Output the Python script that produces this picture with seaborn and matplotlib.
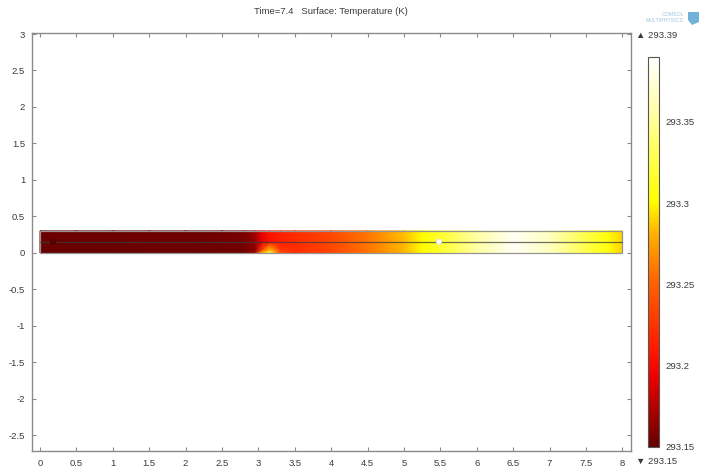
import numpy as np
import pandas as pd
import matplotlib
matplotlib.use("Agg")
import matplotlib.pyplot as plt
from matplotlib.colors import LinearSegmentedColormap, Normalize
from matplotlib.patches import Rectangle, Polygon
import seaborn as sns

# ---- data -----------------------------------------------------------------
title = "Time=7.4   Surface: Temperature (K)"
t_min, t_max = 293.15, 293.39
cbar_ticks = [293.15, 293.2, 293.25, 293.3, 293.35]

# sample positions along the bar (m) and across it
x_nodes = [0, 0.5, 1, 1.5, 2, 2.5, 2.8, 2.95, 3.05, 3.15, 3.3, 3.5, 4, 4.5,
           5, 5.25, 5.5, 6, 6.5, 7, 7.5, 7.8, 8]
y_nodes = [0.0, 0.04, 0.15, 0.3]

# surface temperature (K) for each row of y_nodes
temp_y000 = [293.150, 293.150, 293.150, 293.151, 293.151, 293.152, 293.153, 293.170,
             293.285, 293.325, 293.240, 293.222, 293.236, 293.258,
             293.284, 293.300, 293.316, 293.356, 293.386, 293.366, 293.326, 293.305, 293.290]
temp_y004 = [293.151, 293.151, 293.151, 293.152, 293.152, 293.153, 293.154, 293.162,
             293.230, 293.285, 293.228, 293.221, 293.236, 293.258,
             293.284, 293.300, 293.316, 293.356, 293.386, 293.366, 293.326, 293.305, 293.290]
temp_y015 = [293.152, 293.152, 293.152, 293.153, 293.153, 293.154, 293.156, 293.165,
             293.190, 293.205, 293.212, 293.220, 293.236, 293.258,
             293.284, 293.300, 293.316, 293.356, 293.386, 293.366, 293.326, 293.305, 293.290]
temp_y030 = [293.152, 293.152, 293.152, 293.153, 293.153, 293.154, 293.157, 293.170,
             293.195, 293.207, 293.213, 293.221, 293.237, 293.259,
             293.285, 293.300, 293.316, 293.356, 293.386, 293.366, 293.326, 293.305, 293.290]

# geometry points on the centre line
pt_x = [0.18, 5.48]
pt_y = [0.15, 0.15]

x_ticks = [0, 0.5, 1, 1.5, 2, 2.5, 3, 3.5, 4, 4.5, 5, 5.5, 6, 6.5, 7, 7.5, 8]
y_ticks = [-2.5, -2, -1.5, -1, -0.5, 0, 0.5, 1, 1.5, 2, 2.5, 3]

# ---- style ------------------------------------------------------------------
sns.set_theme(style="white")
plt.rcParams["font.family"] = ["Liberation Sans", "DejaVu Sans"]
text_col = "#3a3a3a"
frame_col = "#8a8a8a"
fs = 6.8

cmap = LinearSegmentedColormap.from_list(
    "thermal_light",
    [(0.00, (0.40, 0.00, 0.00)),
     (0.18, (0.93, 0.00, 0.00)),
     (0.25, (1.00, 0.10, 0.00)),
     (0.42, (1.00, 0.38, 0.00)),
     (0.55, (1.00, 0.70, 0.00)),
     (0.63, (1.00, 1.00, 0.00)),
     (0.85, (1.00, 1.00, 0.62)),
     (1.00, (1.00, 1.00, 1.00))])
norm = Normalize(vmin=t_min, vmax=t_max)

fig = plt.figure(figsize=(7.03, 4.70), dpi=100)
ax = fig.add_axes([32 / 703, 19.3 / 470, 598.7 / 703, 417.4 / 470])

# temperature field
X, Y = np.meshgrid(x_nodes, y_nodes)
T = np.array([temp_y000, temp_y004, temp_y015, temp_y030])
ax.pcolormesh(X, Y, T, cmap=cmap, norm=norm, shading="gouraud", zorder=2)

# domain boundaries
ax.add_patch(Rectangle((x_nodes[0], y_nodes[0]), x_nodes[-1] - x_nodes[0],
                       y_nodes[-1] - y_nodes[0], fill=False,
                       edgecolor="#949494", linewidth=0.9, zorder=3))
ax.plot([x_nodes[0], x_nodes[-1]], [0.15, 0.15], color="#3c3c3c",
        linewidth=0.9, alpha=0.75, zorder=3)

pts = pd.DataFrame({"x": pt_x, "y": pt_y, "kind": ["a", "b"]})
sns.scatterplot(data=pts, x="x", y="y", hue="kind",
                palette={"a": "#5a0000", "b": "#ffffff"}, s=[14, 14],
                edgecolor=["#4a0000", "#e0e0ff"], linewidth=0.6, legend=False,
                ax=ax, zorder=4)
ax.set_xlabel("")
ax.set_ylabel("")

ax.set_xlim(-0.11, 8.115)
ax.set_ylim(-2.715, 3.01)
ax.set_xticks(x_ticks)
ax.set_xticklabels([f"{v:g}" for v in x_ticks])
ax.set_yticks(y_ticks)
ax.set_yticklabels([f"{v:g}" for v in y_ticks])
ax.tick_params(direction="in", length=3, width=0.8, color=frame_col,
               labelsize=fs, labelcolor=text_col, top=True, right=True,
               left=True, bottom=True)
ax.tick_params(axis="x", pad=6)
ax.tick_params(axis="y", pad=5)
for sp in ax.spines.values():
    sp.set_color(frame_col)
    sp.set_linewidth(1.0)

# colour bar
cax = fig.add_axes([648 / 703, 23 / 470, 11 / 703, 390 / 470])
sm = plt.cm.ScalarMappable(cmap=cmap, norm=norm)
cb = fig.colorbar(sm, cax=cax)
cb.set_ticks(cbar_ticks)
cb.set_ticklabels([f"{v:g}" for v in cbar_ticks])
cb.ax.tick_params(direction="in", length=2, width=0.6, color="#777777",
                  labelsize=fs, labelcolor=text_col, pad=5)
cb.outline.set_edgecolor("#555555")
cb.outline.set_linewidth(0.8)

# range markers above and below the colour bar
fig.text(636 / 703, 1 - 36 / 470, "\u25B2 " + f"{t_max:.2f}", fontsize=fs,
         color=text_col, ha="left", va="center")
fig.text(636 / 703, 1 - 461 / 470, "\u25BC " + f"{t_min:.2f}", fontsize=fs,
         color=text_col, ha="left", va="center")

fig.text(331 / 703, 1 - 12 / 470, title, fontsize=fs, color=text_col,
         ha="center", va="center")

# product mark
fig.text(684 / 703, 1 - 14 / 470, "COMSOL", fontsize=3.8, color="#9fc6de",
         ha="right", va="center")
fig.text(684 / 703, 1 - 21 / 470, "MULTIPHYSICS", fontsize=3.8, color="#9fc6de",
         ha="right", va="center")
fig.patches.append(Polygon([[688 / 703, 1 - 12 / 470], [699 / 703, 1 - 12 / 470],
                            [699 / 703, 1 - 22 / 470], [692 / 703, 1 - 25 / 470],
                            [688 / 703, 1 - 20 / 470]], closed=True,
                           transform=fig.transFigure, facecolor="#5aa4d2",
                           edgecolor="none", alpha=0.85))

fig.savefig("out.png", dpi=100)
